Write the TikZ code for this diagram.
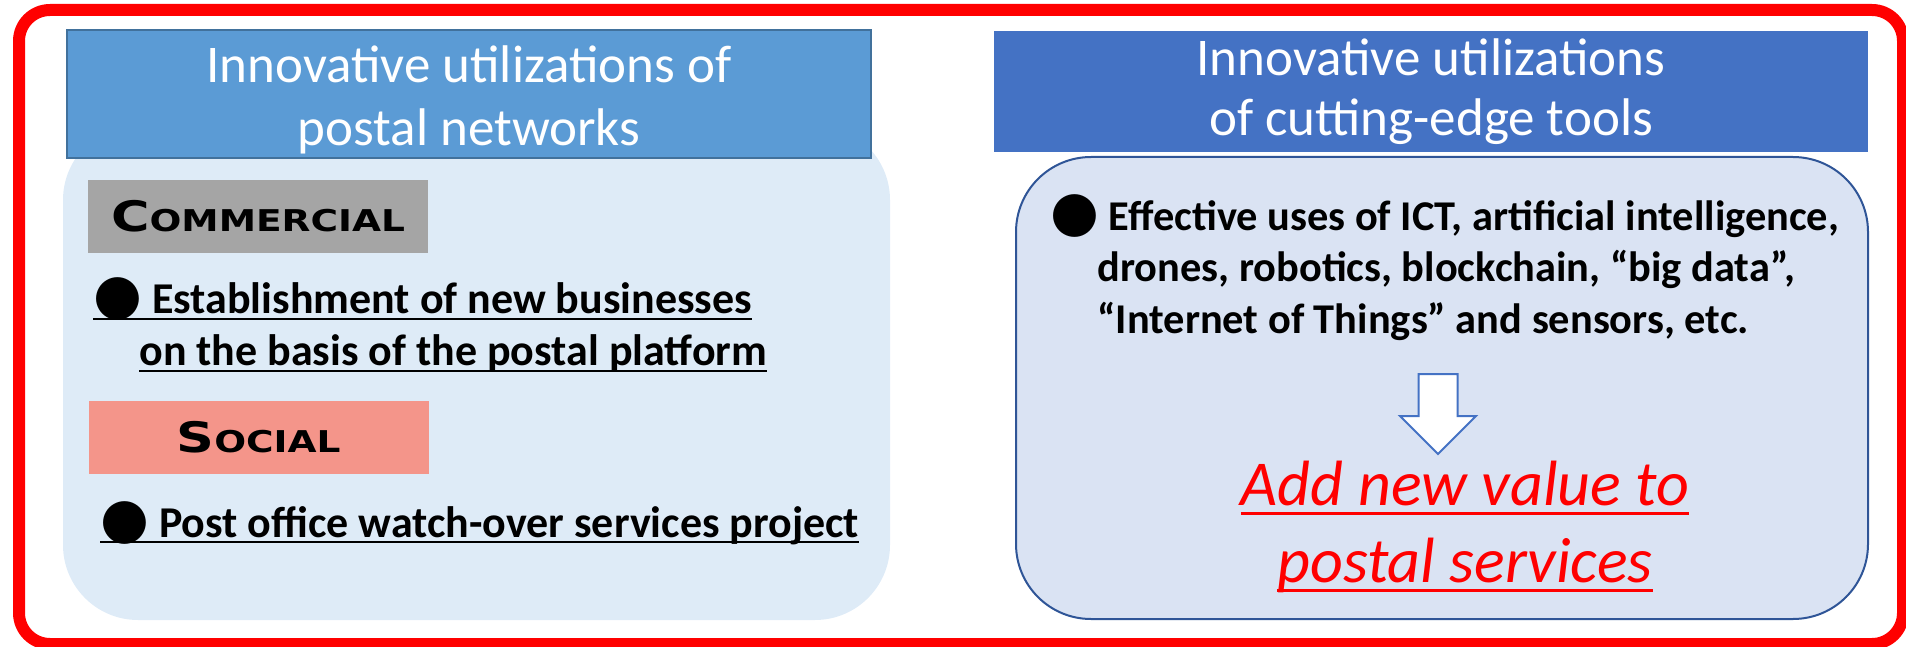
\documentclass[tikz,border=0pt]{standalone}
\usepackage{fontspec}
\setmainfont{Carlito}
\newfontfamily\dotfont{DejaVu Sans}
\newfontfamily\capsfont{DejaVu Sans}[FakeStretch=1.25]
\usetikzlibrary{shapes.arrows, positioning}

\definecolor{netblue}{HTML}{5B9BD5}
\definecolor{netedge}{HTML}{41719C}
\definecolor{netpale}{HTML}{DEEBF7}
\definecolor{toolblue}{HTML}{4472C4}
\definecolor{toolpale}{HTML}{DAE3F3}
\definecolor{tooledge}{HTML}{2F5597}
\definecolor{taggray}{HTML}{A5A5A5}
\definecolor{tagsalmon}{HTML}{F4958A}

\newcommand{\ulined}[3]{\setbox0\hbox{#3}\rlap{\rule[-#1]{\wd0}{#2}}\box0}
\newcommand{\bul}{{\dotfont\fontsize{28pt}{28pt}\selectfont ●}}
\newcommand{\capsword}[2]{{\capsfont\bfseries\fontsize{21pt}{24pt}\selectfont #1\fontsize{15pt}{24pt}\selectfont #2}}

\begin{document}
\begin{tikzpicture}[x=0.5pt, y=-0.5pt,
    head/.style={rectangle, align=center, text=white, inner sep=0pt, font=\fontsize{26.5pt}{31.5pt}\selectfont},
    panel/.style={rectangle, rounded corners=37.5pt, inner sep=0pt},
    tag/.style={rectangle, minimum width=170pt, minimum height=36.5pt, inner sep=0pt},
    item/.style={anchor=base west, inner sep=0pt, font=\bfseries\fontsize{22pt}{26pt}\selectfont},
    tool/.style={item, font=\bfseries\fontsize{21.2pt}{26pt}\selectfont},
    value/.style={anchor=base, inner sep=0pt, text=red, font=\itshape\fontsize{32pt}{38pt}\selectfont}]

    \useasboundingbox (0,0) rectangle (1906,647);
    \clip (0,0) rectangle (1906,647);
    \draw[red, line width=6pt, rounded corners=15.5pt] (19,10) rectangle (1903,644);

    \node[panel, fill=netpale, minimum width=413.5pt, minimum height=247.5pt] (netbody) at (476.5,372.5) {};
    \node[head, fill=netblue, draw=netedge, line width=1pt, minimum width=402pt, minimum height=64pt] (nethead) at (469,94) {\rule{0pt}{24pt}Innovative utilizations of\\postal networks};
    \node[tag, fill=taggray] (commercial) at (258,216.5) {\capsword{C}{OMMERCIAL}};
    \node[item] (biz1) at (93,313) {\ulined{3.5pt}{1pt}{\bul{} Establishment of new businesses}};
    \node[item] (biz2) at (139,365) {\ulined{3.5pt}{1pt}{on the basis of the postal platform}};
    \node[tag, fill=tagsalmon] (social) at (258.5,437.5) {\capsword{S}{OCIAL}};
    \node[item] (watch) at (100,537) {\ulined{3pt}{1pt}{\bul{} Post office watch-over services project}};

    \node[panel, fill=toolpale, draw=tooledge, line width=1pt, minimum width=426pt, minimum height=231pt] (toolbody) at (1442,388) {};
    \node[head, fill=toolblue, minimum width=437pt, minimum height=60.5pt, font=\fontsize{26.5pt}{30pt}\selectfont] (toolhead) at (1431,91.5) {Innovative utilizations\\of cutting-edge tools};
    \node[tool] (ict1) at (1050,230) {\bul{} Effective uses of ICT, artificial intelligence,};
    \node[tool] (ict2) at (1097,281) {drones, robotics, blockchain, “big data”,};
    \node[tool] (ict3) at (1097,333) {“Internet of Things” and sensors, etc.};
    \node[single arrow, rotate=-90, anchor=tail, draw=toolblue, fill=white, line width=1pt, inner xsep=0pt, inner ysep=9.25pt,
          minimum height=40pt, single arrow head extend=9.25pt, single arrow head indent=0pt] (down) at (1438,373) {};
    \node[value] (adda) at (1465,505) {\ulined{4.75pt}{1.5pt}{Add new value to}};
    \node[value] (addb) at (1465,582) {\ulined{4.75pt}{1.5pt}{postal services}};
\end{tikzpicture}
\end{document}
